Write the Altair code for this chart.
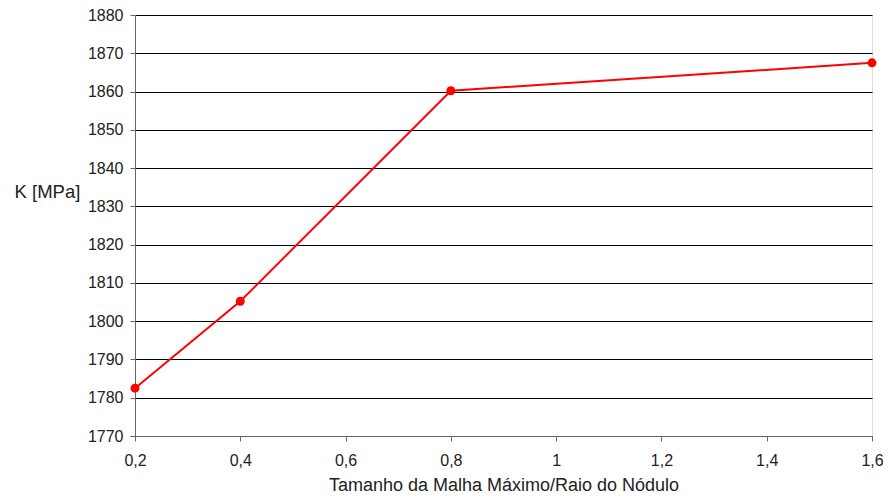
import altair as alt
import pandas as pd

x_vals = [0.2, 0.4, 0.8, 1.6]
k_vals = [1782.5, 1805.2, 1860.2, 1867.5]
x_ticks = [0.2, 0.4, 0.6, 0.8, 1.0, 1.2, 1.4, 1.6]
y_ticks = [1770, 1780, 1790, 1800, 1810, 1820, 1830, 1840, 1850, 1860, 1870, 1880]

df = pd.DataFrame({"x": x_vals, "k": k_vals})

font = "Liberation Sans"

base = alt.Chart(df).encode(
    x=alt.X("x:Q",
            scale=alt.Scale(domain=[0.2, 1.6], nice=False, zero=False),
            axis=alt.Axis(values=x_ticks,
                          labelExpr="replace(format(datum.value, '~g'), '.', ',')",
                          title="Tamanho da Malha Máximo/Raio do Nódulo",
                          grid=False, domainColor="#666666", tickColor="#666666",
                          tickSize=5, labelPadding=11, titlePadding=8,
                          labelFlush=False, labelOverlap=False,
                          labelFontSize=16, titleFontSize=18, labelColor="#222222",
                          titleColor="#222222", titleFontWeight="normal",
                          labelFont=font, titleFont=font)),
    y=alt.Y("k:Q",
            scale=alt.Scale(domain=[1770, 1880], nice=False, zero=False),
            axis=alt.Axis(values=y_ticks, format="d", title="K [MPa]", titleAngle=0,
                          titleAlign="center", titleBaseline="middle",
                          titleX=-88, titleY=176,
                          grid=True, gridColor="#000000", gridWidth=1,
                          labelOverlap=False, labelFlush=False,
                          domainColor="#666666", tickColor="#666666", tickSize=5,
                          labelPadding=7, labelFontSize=16, titleFontSize=18.5,
                          labelColor="#222222", titleColor="#222222",
                          titleFontWeight="normal", labelFont=font, titleFont=font)),
)

line = base.mark_line(color="#FF0000", strokeWidth=2)
points = base.mark_circle(color="#FF0000", size=80, opacity=1)

chart = (line + points).properties(
    width=737, height=421,
    autosize=alt.AutoSizeParams(type="none"),
    padding={"left": 127, "top": 7, "right": 11, "bottom": 62},
).configure_view(stroke="#888888", strokeWidth=1).configure(background="white")

chart.save("out.html", embed_options={"renderer": "svg", "actions": False})
